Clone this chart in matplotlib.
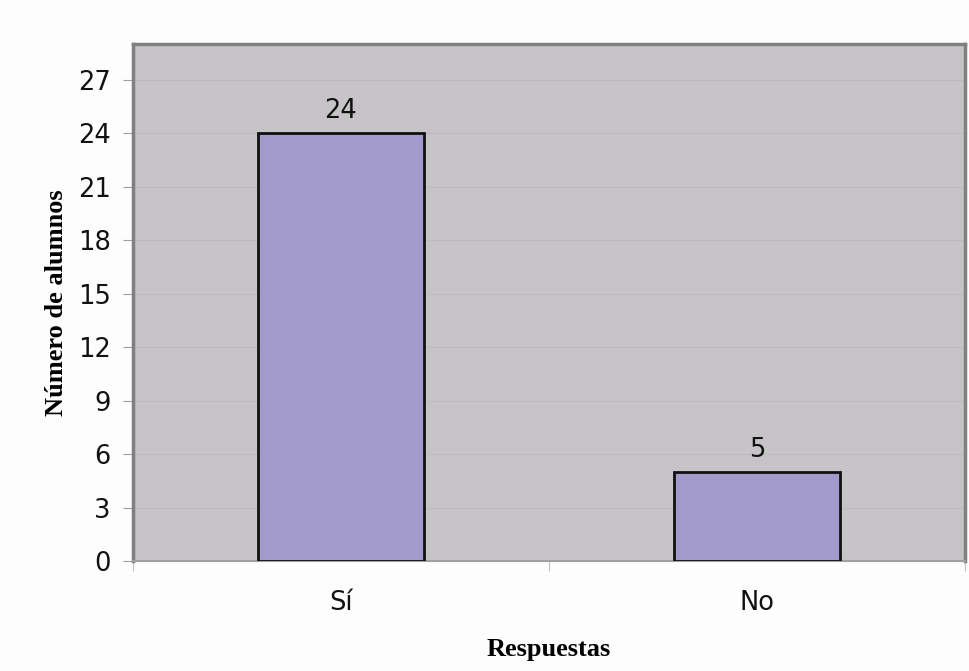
import matplotlib
matplotlib.use("Agg")
import matplotlib.pyplot as plt
import numpy as np

categorias = ["Sí", "No"]
alumnos = [24, 5]
yticks = [0, 3, 6, 9, 12, 15, 18, 21, 24, 27]

fig = plt.figure(figsize=(9.69, 6.71), dpi=100)
fig.patch.set_facecolor("#fdfdfd")
ax = fig.add_axes([133/969, 1 - 561/671, (965-133)/969, (561-44)/671])
ax.set_facecolor("#c6c4c6")

x = np.arange(len(categorias))
bars = ax.bar(x, alumnos, width=0.4, color="#a29acb", edgecolor="#111111",
              linewidth=2, zorder=3)
for b, v in zip(bars, alumnos):
    ax.text(b.get_x() + b.get_width()/2, v + 0.5, str(v), ha="center", va="bottom",
            fontsize=18.5, color="#111111")

ax.set_xlim(-0.5, 1.5)
ax.set_ylim(0, 29)
ax.set_yticks(yticks)
ax.tick_params(axis="y", labelsize=18.5, length=7, color="#a0a0a0", pad=9,
               labelcolor="#111111")
ax.yaxis.grid(True, color="#bdbbbd", linewidth=0.8, zorder=0)

# category labels between boundary ticks
ax.set_xticks([-0.5, 0.5, 1.5])
ax.set_xticklabels([])
ax.set_xticks(x, minor=True)
ax.set_xticklabels(categorias, minor=True)
ax.tick_params(axis="x", which="major", length=7, color="#c0c0c0")
ax.tick_params(axis="x", which="minor", length=0, labelsize=18.5, pad=21,
               labelcolor="#111111")

for s in ["left", "top", "right"]:
    ax.spines[s].set_color("#808080")
    ax.spines[s].set_linewidth(2.5)
ax.spines["bottom"].set_color("#a0a0a0")
ax.spines["bottom"].set_linewidth(1.5)

ax.set_xlabel("Respuestas", fontfamily="Liberation Serif", fontweight="bold",
              fontsize=19, labelpad=16)
ax.set_ylabel("Número de alumnos", fontfamily="Liberation Serif", fontweight="bold",
              fontsize=19, labelpad=7)

fig.savefig("out.png", dpi=100)
